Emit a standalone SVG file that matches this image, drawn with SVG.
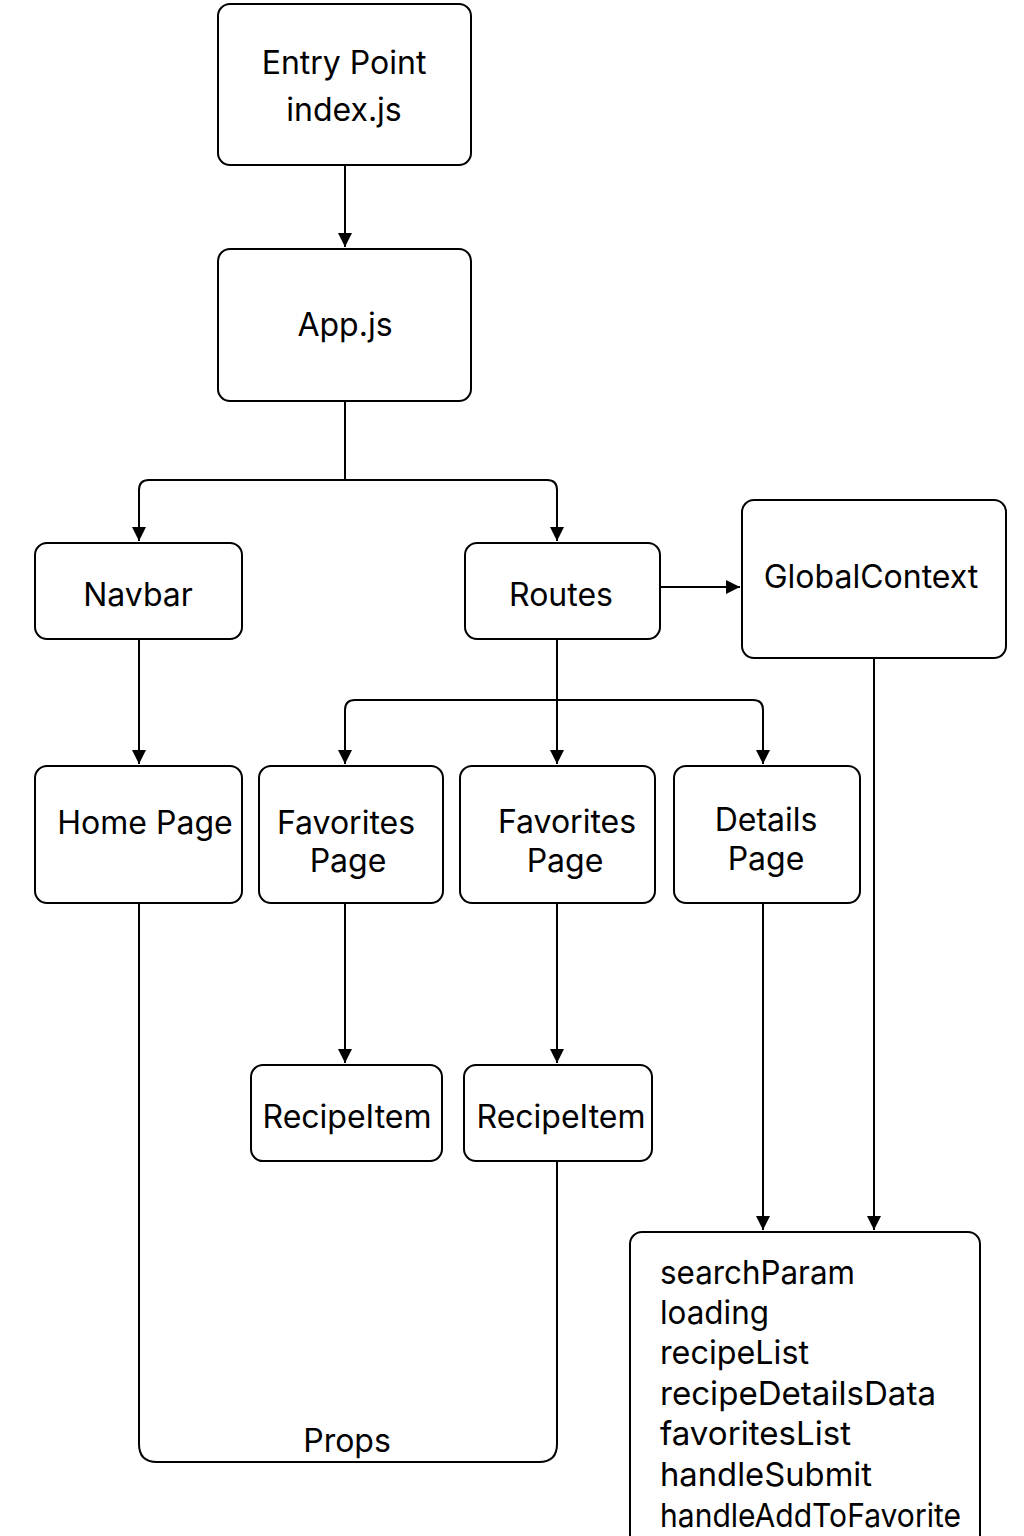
<svg xmlns="http://www.w3.org/2000/svg" width="1024" height="1536" viewBox="0 0 1024 1536">
<defs>
<marker id="ah" viewBox="0 0 14 14" refX="14" refY="7" markerWidth="14" markerHeight="14" markerUnits="userSpaceOnUse" orient="auto">
<path d="M0,0 L14,7 L0,14 Z" fill="#000"/>
</marker>
<style>
.box{fill:#fff;stroke:#000;stroke-width:2}
.t{font-family:Inter,"Noto Sans","Liberation Sans",sans-serif;font-size:32px;fill:#000;text-anchor:middle}
.tl{font-family:Inter,"Noto Sans","Liberation Sans",sans-serif;font-size:33px;fill:#000}
.c{fill:none;stroke:#000;stroke-width:2}
</style>
</defs>
<rect width="1024" height="1536" fill="#fff"/>
<g id="connectors">
<path class="c" d="M345,165 V247" marker-end="url(#ah)"/>
<path class="c" d="M345,401 V480"/>
<path class="c" d="M345,480 H149 Q139,480 139,490 V541" marker-end="url(#ah)"/>
<path class="c" d="M345,480 H547 Q557,480 557,490 V541" marker-end="url(#ah)"/>
<path class="c" d="M660,587 H740" marker-end="url(#ah)"/>
<path class="c" d="M139,639 V764" marker-end="url(#ah)"/>
<path class="c" d="M557,639 V764" marker-end="url(#ah)"/>
<path class="c" d="M557,700 H355 Q345,700 345,710 V764" marker-end="url(#ah)"/>
<path class="c" d="M557,700 H753 Q763,700 763,710 V764" marker-end="url(#ah)"/>
<path class="c" d="M345,903 V1063" marker-end="url(#ah)"/>
<path class="c" d="M557,903 V1063" marker-end="url(#ah)"/>
<path class="c" d="M763,903 V1230" marker-end="url(#ah)"/>
<path class="c" d="M874,658 V1230" marker-end="url(#ah)"/>
<path class="c" d="M139,903 V1444 Q139,1462 157,1462 H539 Q557,1462 557,1444 V1161"/>
<text class="t" x="347" y="1452">Props</text>
</g>
<g id="entry">
<rect class="box" x="218" y="4" width="253" height="161" rx="12"/>
<text class="t" x="344" y="74">Entry Point</text>
<text class="t" x="344" y="121">index.js</text>
</g>
<g id="app">
<rect class="box" x="218" y="249" width="253" height="152" rx="12"/>
<text class="t" x="345" y="336">App.js</text>
</g>
<g id="navbar">
<rect class="box" x="35" y="543" width="207" height="96" rx="12"/>
<text class="t" x="138" y="606">Navbar</text>
</g>
<g id="routes">
<rect class="box" x="465" y="543" width="195" height="96" rx="12"/>
<text class="t" x="561" y="606">Routes</text>
</g>
<g id="globalcontext">
<rect class="box" x="742" y="500" width="264" height="158" rx="12"/>
<text class="t" x="871" y="588">GlobalContext</text>
</g>
<g id="homepage">
<rect class="box" x="35" y="766" width="207" height="137" rx="12"/>
<text class="t" x="145" y="834">Home Page</text>
</g>
<g id="favorites1">
<rect class="box" x="259" y="766" width="184" height="137" rx="12"/>
<text class="t" x="346" y="834">Favorites</text>
<text class="t" x="348" y="872">Page</text>
</g>
<g id="favorites2">
<rect class="box" x="460" y="766" width="195" height="137" rx="12"/>
<text class="t" x="567" y="833">Favorites</text>
<text class="t" x="565" y="872">Page</text>
</g>
<g id="details">
<rect class="box" x="674" y="766" width="186" height="137" rx="12"/>
<text class="t" x="766" y="831">Details</text>
<text class="t" x="766" y="870">Page</text>
</g>
<g id="recipeitem1">
<rect class="box" x="251" y="1065" width="191" height="96" rx="12"/>
<text class="t" x="347" y="1128">RecipeItem</text>
</g>
<g id="recipeitem2">
<rect class="box" x="464" y="1065" width="188" height="96" rx="12"/>
<text class="t" x="561" y="1128">RecipeItem</text>
</g>
<g id="state">
<rect class="box" x="630" y="1232" width="350" height="330" rx="12"/>
<text class="tl" x="660" y="1284" textLength="195" lengthAdjust="spacingAndGlyphs">searchParam</text>
<text class="tl" x="660" y="1324" textLength="109" lengthAdjust="spacingAndGlyphs">loading</text>
<text class="tl" x="660" y="1364" textLength="149" lengthAdjust="spacingAndGlyphs">recipeList</text>
<text class="tl" x="660" y="1405" textLength="276" lengthAdjust="spacingAndGlyphs">recipeDetailsData</text>
<text class="tl" x="660" y="1445" textLength="191" lengthAdjust="spacingAndGlyphs">favoritesList</text>
<text class="tl" x="660" y="1486" textLength="212" lengthAdjust="spacingAndGlyphs">handleSubmit</text>
<text class="tl" x="660" y="1527" textLength="301" lengthAdjust="spacingAndGlyphs">handleAddToFavorite</text>
</g>
</svg>
